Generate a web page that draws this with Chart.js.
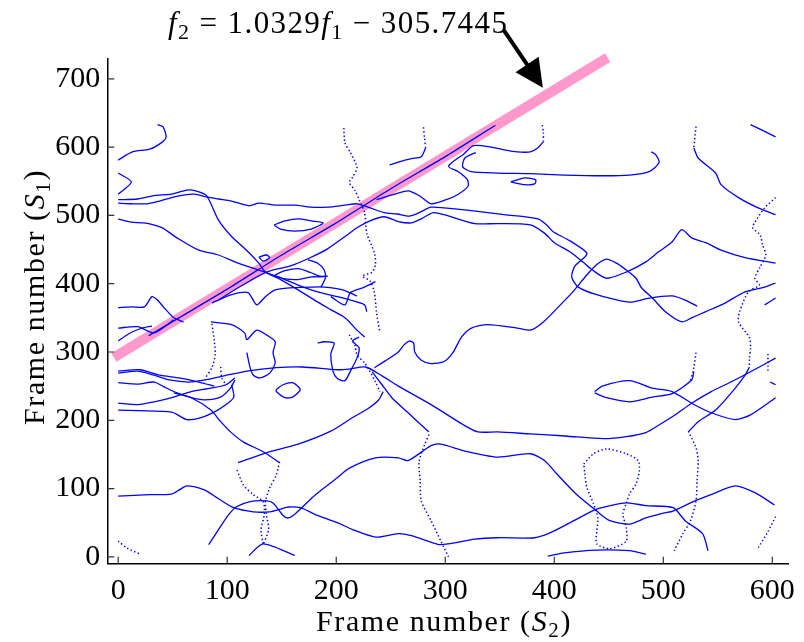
<!DOCTYPE html>
<html>
<head>
<meta charset="utf-8">
<script src="https://cdn.jsdelivr.net/npm/chart.js@4.4.1/dist/chart.umd.min.js"></script>
<style>
  html, body { margin: 0; padding: 0; background: #fff; }
  #wrap { width: 804px; height: 642px; }
</style>
</head>
<body>
<div id="wrap"><canvas id="chart" width="804" height="642"></canvas></div>
<script>
// ticks
const xTicks = [0, 100, 200, 300, 400, 500, 600];
const yTicks = [0, 100, 200, 300, 400, 500, 600, 700];

// fitted line f2 = 1.0329 f1 - 305.7445 (ends only)
const fitLine = [[-4, 292], [449, 731]];

// matched frame curves, points are [S2, S1]
const curveA = [[0,581],[13,593],[29,597],[41,608],[44,615],[41,630],[36,633]];
const curveB = [[0,562],[12,549],[0,531]];
const curveC = [[0,518],[12,517],[27,517],[38,521],[49,526],[61,530],[70,531],[81,527],[92,524],[104,521],[120,514],[129,518],[144,515],[162,515],[177,512],[192,512],[208,515],[219,517],[231,511],[244,504],[256,502],[267,499],[276,504],[287,512],[299,511],[324,507],[354,501],[385,495],[393,486],[399,476],[414,463],[430,444],[419,426],[416,410],[422,395],[439,384],[469,373],[487,379],[508,382],[520,376],[531,367]];
const curveD = [[0,523],[18,524],[33,529],[49,531],[63,537],[71,536],[81,529],[92,493],[104,469],[117,450],[129,430],[135,417],[149,406],[165,391],[180,376],[195,362],[208,350],[219,332],[226,322]];
const curveE = [[0,495],[12,490],[24,489],[40,482],[54,467],[74,449],[92,442],[110,430],[129,420],[147,410],[165,398],[183,388],[201,381],[213,376],[226,369],[228,359]];
const fitBlue = [[28,324],[60,354],[100,392],[150,442],[200,489],[250,539],[300,586],[346,632]];
const curveP0 = [[0,335],[18,337],[33,328],[51,347]];
const curveP0b = [[0,316],[9,326],[20,334],[31,338]];
const curveP1 = [[0,365],[12,366],[24,366],[31,381],[36,376],[42,365],[51,350],[60,344]];
const curveQ = [[92,376],[110,394],[136,417],[158,426],[176,438],[192,451],[208,469],[219,482],[231,492],[244,498],[257,491],[269,489],[278,495],[289,504],[299,501],[327,488],[348,488],[378,486],[391,474],[400,460],[414,447],[426,432],[435,420],[448,408],[466,417],[484,432],[496,447],[508,461],[517,479],[526,467],[539,460],[553,449],[575,438],[603,430]];
const curveF = [[237,523],[251,530],[266,536],[276,529],[287,517],[301,523],[312,531],[321,543],[320,553],[312,564],[303,572],[317,590],[326,602],[342,600],[354,596],[366,593],[378,593],[385,599],[390,608]];
const dotF = [[390,608],[390,621],[389,632]];
const curveH = [[328,592],[318,584],[316,571],[324,564],[348,562],[378,561],[409,559],[445,558],[469,559],[487,564],[496,577],[493,589],[489,593]];
const loopS = [[360,549],[373,555],[383,552],[382,546],[373,545],[360,549]];
const curveN = [[249,574],[257,578],[269,583],[278,586],[282,599]];
const dotN = [[282,599],[281,613],[280,630]];
const curveR = [[235,277],[245,287],[257,300],[262,310],[267,316],[271,313],[272,300],[278,288],[287,283],[299,286],[307,299],[315,322],[324,335],[339,340],[366,335],[378,332],[390,344],[408,373],[417,388],[430,413],[439,428],[448,436],[457,430],[466,420],[475,408],[480,394],[490,379],[502,359],[517,344],[526,350],[539,359],[557,372],[575,388],[593,395],[603,401]];
const curveT = [[0,269],[18,272],[33,266],[47,259],[65,256],[79,259],[97,265],[118,272],[145,277],[169,278],[201,274],[212,275],[227,278],[242,265],[257,250],[287,223],[317,193],[330,183],[348,183],[378,180],[410,177],[445,173],[466,176],[484,182],[496,193],[511,208],[526,225],[544,242],[562,256],[580,271],[603,291]];
const curveT2 = [[233,271],[242,252],[251,233],[266,211],[278,193],[285,183]];
const dotT2 = [[285,179],[281,164],[276,139],[277,111],[278,82],[287,53],[296,23],[303,0]];
const curveV1 = [[51,240],[67,233],[85,215],[94,198],[103,183],[115,168],[133,154],[148,138]];
const curveV2 = [[110,138],[135,152],[165,165],[195,184],[215,204],[230,218],[239,230],[243,242]];
const curveW1 = [[0,89],[29,91],[49,92],[56,98],[63,104],[79,98],[92,85],[106,72],[124,66],[139,66],[149,70],[156,73],[167,72],[181,62],[201,50],[215,40],[236,29],[257,34],[269,31],[294,18],[303,19],[327,26],[348,28],[382,28],[396,35],[418,53],[439,70],[466,79],[484,75],[509,72],[520,53],[536,34],[541,9]];
const curveW2 = [[83,18],[92,40],[101,61],[108,73],[121,81],[136,82],[142,79],[151,61],[156,57],[163,64],[181,91],[201,116],[212,130],[236,145],[257,145],[266,141],[287,163],[296,165],[318,155],[348,146],[378,151],[391,141],[402,122],[420,92],[439,67],[451,53],[469,48],[484,57],[500,64],[509,67],[529,82],[545,92],[566,104],[584,94],[602,76]];
const curveBL = [[394,1],[409,6],[439,10],[469,9],[484,4]];
const curveCaret = [[120,2],[133,19],[162,2]];
const dotBL = [[0,23],[8,13],[20,4]];
const dotHGa = [[109,127],[115,105],[124,91],[133,81],[134,62],[131,40],[133,18]];
const dotHGb = [[148,139],[145,120],[139,101],[135,81],[136,62],[138,40],[133,18]];
const dotHR = [[427,136],[436,151],[448,158],[466,151],[477,141],[478,126],[475,107],[469,92],[466,78],[463,63],[466,42],[466,23],[451,12],[439,19],[439,38],[440,57],[436,78],[430,101],[428,122],[427,136]];
const dotR1 = [[530,299],[528,277],[525,258]];
const dotR2 = [[523,184],[530,160],[532,141],[531,111],[530,82],[525,53],[518,34],[510,9]];
const curveRL = [[523,183],[532,198],[548,215],[566,247],[575,266],[579,278]];
const dotS3 = [[603,526],[593,511],[584,490],[582,482],[589,471],[591,457],[594,442],[589,425],[584,408],[588,398],[578,388],[570,359],[569,344],[579,321],[580,306],[579,291],[579,278]];
const curveS1 = [[528,599],[532,584],[548,562],[553,545],[569,526],[587,511],[603,501]];
const dotS1 = [[530,630],[528,599]];
const curveS2 = [[580,633],[603,615]];
const curveZu = [[437,242],[444,250],[469,258],[490,247],[508,242],[526,225],[544,211],[566,201],[580,208],[603,233]];
const curveZl = [[437,240],[448,233],[469,227],[490,234],[508,239],[526,259],[528,271]];
const dotRE1 = [[596,297],[596,272]];
const dotRE2 = [[603,59],[596,37],[587,13]];
const curveRE3 = [[593,369],[603,379]];
const curveRE4 = [[598,256],[603,252]];
const curveK1 = [[0,272],[20,274],[38,266],[56,262],[74,256],[88,250]];
const curveK2 = [[0,255],[18,253],[33,256],[42,249],[54,240],[67,233],[79,230],[94,234],[103,247],[107,259]];
const curveK3 = [[0,225],[18,223],[33,227],[51,234],[67,242],[85,247],[99,252],[107,262]];
const curveK4 = [[0,215],[18,214],[49,212],[63,201],[76,204],[88,212],[99,223],[106,234],[104,252]];
const curveM1 = [[86,372],[92,376],[104,384],[119,387],[127,369],[135,381],[144,391],[158,394],[177,395],[189,395],[206,391],[219,382]];
const curveM2 = [[85,344],[104,340],[116,328],[118,318],[127,332],[136,325],[144,315],[142,299],[144,284],[139,269],[130,262],[124,266],[121,277],[118,299]];
const loopL = [[183,313],[189,315],[198,313],[195,297],[197,272],[201,261],[208,258],[213,272],[219,291],[221,306],[215,316],[221,322]];
const dotV1 = [[207,628],[208,606],[213,592],[219,570],[215,556],[212,548],[217,537],[221,523],[226,504],[228,474],[235,445],[236,428],[233,417],[224,411],[231,404],[235,387],[237,357],[240,329]];
const dotV3 = [[212,325],[217,310],[219,296],[226,284],[230,274],[236,256],[240,242]];
const dotV4 = [[86,341],[88,318],[89,297],[86,277],[80,262]];
const dotV5 = [[94,278],[95,262],[99,252]];
const loopU = [[143,486],[153,492],[165,495],[177,492],[188,489],[177,480],[162,477],[149,480],[143,486]];
const loopW = [[144,413],[153,419],[165,422],[177,416],[185,411],[192,411],[185,410],[177,410],[165,406],[153,407],[144,411]];
const loopS2 = [[129,439],[136,442],[139,438],[133,433],[129,439]];
const loopC = [[145,245],[151,252],[160,255],[167,245],[160,234],[153,233],[145,242],[145,245]];
const curve8 = [[174,435],[183,430],[189,420],[190,408],[186,395]];
const curve9 = [[195,381],[208,369],[213,387],[226,395],[236,403]];

const solidCurves = [curveA, curveB, curveC, curveD, curveE, fitBlue, curveP0, curveP0b, curveP1, curveQ,
  curveF, curveH, loopS, curveN, curveR, curveT, curveT2, curveV1, curveV2, curveW1, curveW2, curveBL,
  curveCaret, curveRL, curveS1, curveS2, curveZu, curveZl, curveRE3, curveRE4, curveK1, curveK2, curveK3,
  curveK4, curveM1, curveM2, loopL, loopU, loopW, loopS2, loopC, curve8, curve9];
const dottedCurves = [dotF, dotN, dotT2, dotBL, dotHGa, dotHGb, dotHR, dotR1, dotR2, dotS3, dotS1,
  dotRE1, dotRE2, dotV1, dotV3, dotV4, dotV5];

// annotation, in axis units
const arrowTail = [353.5, 771.6];
const arrowTip = [389.5, 687];

const BLUE = '#0000ff';
const PINK = '#ff99cc';
const SERIF = '"Liberation Serif", "Times New Roman", serif';

const toXY = c => c.map(([x, y]) => ({ x, y }));
const datasets = [];
solidCurves.forEach(c => datasets.push({
  data: toXY(c), showLine: true, borderColor: BLUE, borderWidth: 1.3,
  pointRadius: 0, tension: 0.25, borderJoinStyle: 'round', order: 0
}));
dottedCurves.forEach(c => datasets.push({
  data: toXY(c), showLine: true, borderColor: BLUE, borderWidth: 1.5,
  borderDash: [1.4, 2.4], pointRadius: 0, tension: 0.25, order: 0
}));
datasets.push({
  data: toXY(fitLine), showLine: true, borderColor: PINK, borderWidth: 10,
  borderCapStyle: 'butt', pointRadius: 0, clip: false, order: 1
});

function drawRuns(ctx, runs, x, y, spacing) {
  ctx.letterSpacing = spacing || '0px';
  let cx = x;
  runs.forEach(([t, f, dy]) => {
    ctx.font = f;
    ctx.fillText(t, cx, y + (dy || 0));
    cx += ctx.measureText(t).width;
  });
  ctx.letterSpacing = '0px';
}
function runsWidth(ctx, runs, spacing) {
  ctx.letterSpacing = spacing || '0px';
  let w = 0;
  runs.forEach(([t, f]) => { ctx.font = f; w += ctx.measureText(t).width; });
  ctx.letterSpacing = '0px';
  return w;
}

const decor = {
  id: 'decor',
  afterDraw(chart) {
    const { ctx, chartArea: a, scales: { x, y } } = chart;
    ctx.save();
    // inward tick marks
    ctx.strokeStyle = '#333';
    ctx.lineWidth = 1.2;
    ctx.beginPath();
    xTicks.forEach(v => { const px = x.getPixelForValue(v); ctx.moveTo(px, a.bottom); ctx.lineTo(px, a.bottom - 7); });
    yTicks.forEach(v => { const py = y.getPixelForValue(v); ctx.moveTo(a.left, py); ctx.lineTo(a.left + 7, py); });
    ctx.stroke();

    ctx.fillStyle = '#000';
    ctx.textBaseline = 'alphabetic';
    ctx.textAlign = 'left';
    const rm = '30px ' + SERIF, it = 'italic 30px ' + SERIF, sb = '21px ' + SERIF;

    // axis titles
    const xt = [['Frame number (', rm], ['S', it], ['2', sb, 6], [')', rm]];
    const xw = runsWidth(ctx, xt, '1.6px');
    drawRuns(ctx, xt, 444 - xw / 2, 631, '1.6px');

    const yt = [['Frame number (', rm], ['S', it], ['1', sb, 6], [')', rm]];
    const yw = runsWidth(ctx, yt, '1.6px');
    ctx.save();
    ctx.translate(44, 297);
    ctx.rotate(-Math.PI / 2);
    drawRuns(ctx, yt, -yw / 2, 0, '1.6px');
    ctx.restore();

    // fitted equation
    const erm = '31px ' + SERIF, eit = 'italic 31px ' + SERIF, esb = '22px ' + SERIF;
    const eq = [['f', eit], ['2', esb, 6], [' = ', erm], ['1.0329', erm], ['f', eit], ['1', esb, 6], [' \u2212 ', erm], ['305.7445', erm]];
    drawRuns(ctx, eq, 168, 33, '1.4px');

    // arrow
    const tx = x.getPixelForValue(arrowTail[0]), ty = y.getPixelForValue(arrowTail[1]);
    const hx = x.getPixelForValue(arrowTip[0]), hy = y.getPixelForValue(arrowTip[1]);
    const dx = hx - tx, dy = hy - ty, len = Math.hypot(dx, dy);
    const ux = dx / len, uy = dy / len;
    const bx = hx - ux * 28, by = hy - uy * 28;
    ctx.strokeStyle = '#000';
    ctx.lineWidth = 4;
    ctx.beginPath();
    ctx.moveTo(tx, ty);
    ctx.lineTo(bx + ux * 4, by + uy * 4);
    ctx.stroke();
    ctx.beginPath();
    ctx.moveTo(hx, hy);
    ctx.lineTo(bx - uy * 14, by + ux * 14);
    ctx.lineTo(bx + uy * 14, by - ux * 14);
    ctx.closePath();
    ctx.fill();
    ctx.restore();
  }
};

new Chart(document.getElementById('chart').getContext('2d'), {
  type: 'scatter',
  data: { datasets },
  options: {
    responsive: false,
    animation: false,
    layout: { padding: { left: 0, right: 7.7, top: 58.3, bottom: 0 } },
    plugins: { legend: { display: false }, tooltip: { enabled: false } },
    scales: {
      x: {
        type: 'linear', min: -10, max: 615,
        grid: { display: false, drawTicks: false },
        border: { color: '#000', width: 1.5 },
        ticks: { color: '#000', padding: 9, font: { family: SERIF, size: 30 } },
        afterBuildTicks: s => { s.ticks = xTicks.map(v => ({ value: v })); },
        afterFit: s => { s.height = 78.3; }
      },
      y: {
        type: 'linear', min: -10, max: 730,
        grid: { display: false, drawTicks: false },
        border: { color: '#000', width: 1.5 },
        ticks: { color: '#000', padding: 7, font: { family: SERIF, size: 30 } },
        afterBuildTicks: s => { s.ticks = yTicks.map(v => ({ value: v })); },
        afterFit: s => { s.width = 107.3; }
      }
    }
  },
  plugins: [decor]
});
</script>
</body>
</html>
